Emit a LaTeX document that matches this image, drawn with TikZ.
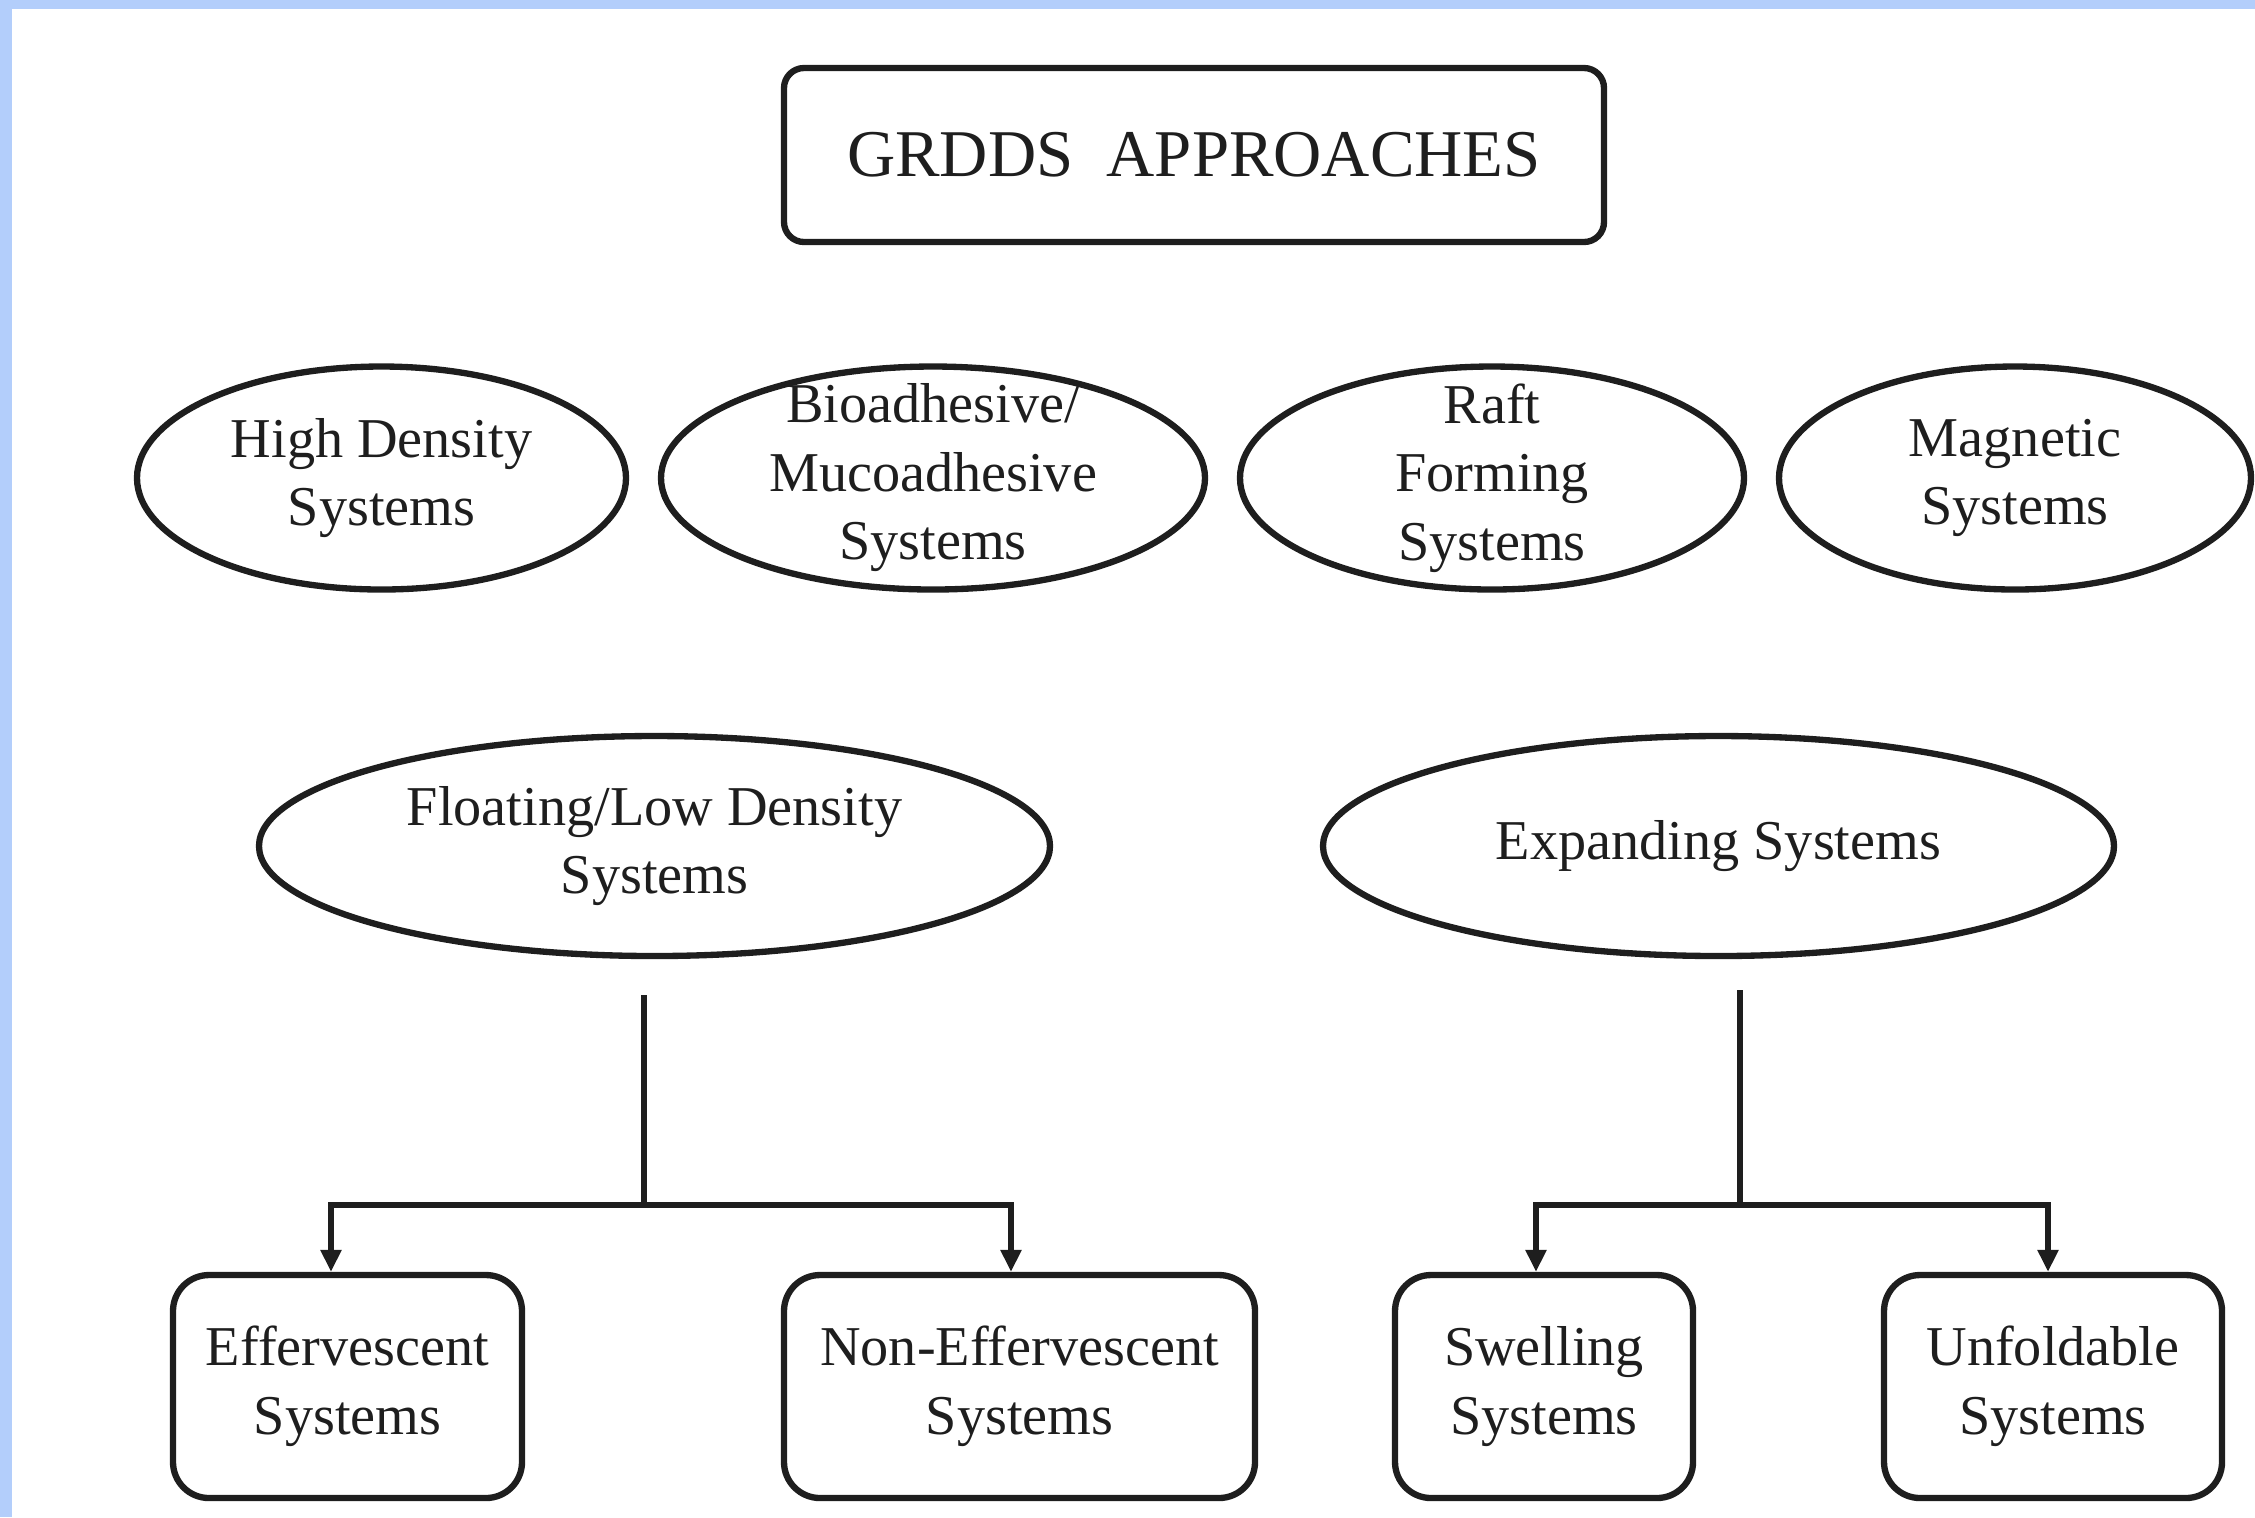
\documentclass[tikz,border=0pt]{standalone}
\usepackage{fontspec}
\setmainfont{Liberation Serif}
\usetikzlibrary{shapes.geometric,arrows.meta}
\definecolor{bandblue}{HTML}{B3CEFB}
\definecolor{inkc}{HTML}{1E1E1E}
\begin{document}
\begin{tikzpicture}[x=1cm,y=1cm,
  every node/.style={font=\fontsize{16}{19.5}\selectfont, align=center, line width=1.8pt, text=inkc, draw=inkc},
  oval/.style={draw, ellipse, inner sep=0pt},
  tight/.style={inner ysep=-0.3cm},
  rbox/.style={draw, rounded corners=0.36cm, minimum height=2.23cm, inner sep=0pt},
  conn/.style={line width=1.8pt, draw=inkc},
  arr/.style={conn, -{Triangle[length=0.22cm,width=0.2cm]}}]
\useasboundingbox (0,0) rectangle (22.55,-15.17);
\fill[bandblue] (0,0) rectangle (22.55,-0.09);
\fill[bandblue] (0,0) rectangle (0.12,-15.17);

% title
\node[draw, rounded corners=0.2cm, minimum width=8.2cm, minimum height=1.74cm, inner sep=0pt,
      font=\fontsize{19}{23}\selectfont] (title) at (11.94,-1.55) {GRDDS\ \ APPROACHES};

% first row
\node[oval, minimum width=4.89cm, minimum height=2.23cm] (hd) at (3.815,-4.78) {High Density\\Systems};
\node[oval, tight, minimum width=5.44cm, minimum height=2.23cm] (bio) at (9.33,-4.78) {Bioadhesive/\\Mucoadhesive\\Systems};
\node[oval, tight, minimum width=5.04cm, minimum height=2.23cm] (raft) at (14.92,-4.78) {Raft\\Forming\\Systems};
\node[oval, minimum width=4.72cm, minimum height=2.23cm] (mag) at (20.15,-4.78) {Magnetic\\Systems};

% second row
\node[oval, minimum width=7.91cm, minimum height=2.20cm] (flt) at (6.545,-8.46) {Floating/Low Density\\Systems};
\node[oval, minimum width=7.91cm, minimum height=2.20cm] (exp) at (17.185,-8.46) {Expanding Systems};

% bottom boxes
\node[rbox, minimum width=3.49cm] (eff) at (3.475,-13.865) {Effervescent\\Systems};
\node[rbox, minimum width=4.71cm] (neff) at (10.195,-13.865) {Non-Effervescent\\Systems};
\node[rbox, minimum width=2.98cm] (swl) at (15.44,-13.865) {Swelling\\Systems};
\node[rbox, minimum width=3.38cm] (unf) at (20.53,-13.865) {Unfoldable\\Systems};

% connector points
\coordinate (flt-top) at (6.44,-9.95);
\coordinate (flt-j) at (6.44,-12.05);
\coordinate (flt-l) at (3.31,-12.05);
\coordinate (flt-r) at (10.11,-12.05);
\coordinate (exp-top) at (17.40,-9.90);
\coordinate (exp-j) at (17.40,-12.05);
\coordinate (exp-l) at (15.36,-12.05);
\coordinate (exp-r) at (20.48,-12.05);

\draw[conn] (flt-top) -- (flt-j);
\draw[arr] (flt-j) -- (flt-l) -- (flt-l |- eff.north);
\draw[arr] (flt-j) -- (flt-r) -- (flt-r |- neff.north);
\draw[conn] (exp-top) -- (exp-j);
\draw[arr] (exp-j) -- (exp-l) -- (exp-l |- swl.north);
\draw[arr] (exp-j) -- (exp-r) -- (exp-r |- unf.north);
\end{tikzpicture}
\end{document}
